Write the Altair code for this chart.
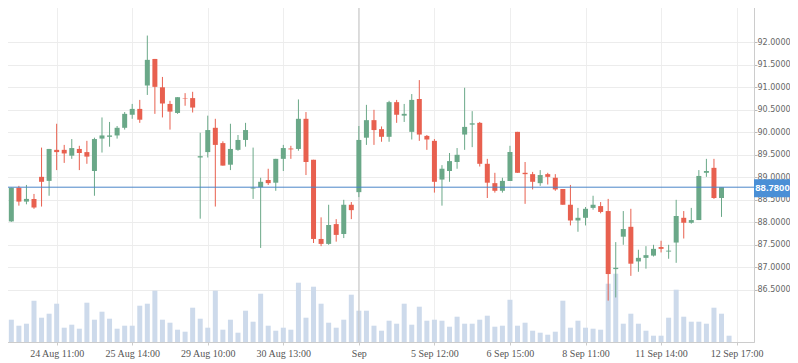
import altair as alt
import pandas as pd

# ---- data ----
opens = [88.19, 88.02, 88.77, 88.46, 88.52, 89.01, 88.92, 89.61, 89.61, 89.48,
         89.63, 89.56, 89.14, 89.86, 89.90, 89.93, 90.10, 90.39, 90.52, 91.04,
         91.63, 91.00, 90.63, 90.43, 90.76, 90.76, 89.44, 89.56, 90.10, 89.76,
         89.28, 89.61, 89.83, 88.75, 88.78, 88.94, 88.88, 89.41, 89.64, 89.63,
         90.30, 89.39, 87.63, 87.52, 87.96, 87.74, 88.39, 88.67, 89.88, 90.27,
         90.07, 89.90, 90.67, 90.37, 90.01, 90.74, 89.92, 89.81, 88.95, 89.14,
         89.34, 89.95, 90.17, 90.21, 89.30, 88.87, 88.70, 88.92, 90.01, 89.10,
         89.07, 88.87, 89.07, 88.99, 88.74, 88.39, 88.04, 88.10, 88.32, 88.36,
         88.25, 86.96, 87.68, 87.90, 87.13, 87.21, 87.26, 87.45, 87.35, 87.55,
         88.10, 87.99, 88.05, 89.10, 89.21, 88.54]
highs = [88.46, 88.77, 88.81, 88.83, 88.63, 89.66, 89.63, 90.19, 89.72, 89.85,
         89.70, 89.81, 89.88, 90.33, 90.23, 90.14, 90.45, 90.63, 90.72, 92.15,
         91.63, 91.23, 90.70, 90.78, 90.87, 90.90, 89.99, 90.37, 90.30, 89.80,
         90.19, 89.94, 90.21, 89.66, 88.99, 89.19, 89.41, 89.72, 89.70, 90.73,
         90.45, 89.39, 88.11, 88.39, 88.07, 88.50, 88.45, 90.14, 90.61, 90.50,
         90.13, 90.70, 90.72, 90.63, 90.85, 91.16, 89.94, 89.85, 89.27, 89.54,
         89.65, 90.99, 90.47, 90.23, 89.41, 89.10, 88.99, 89.70, 90.01, 89.34,
         89.12, 89.16, 89.10, 89.07, 88.74, 88.83, 88.32, 88.34, 88.59, 88.45,
         88.52, 87.56, 88.25, 88.30, 87.39, 87.47, 87.50, 87.59, 87.50, 88.50,
         88.25, 88.32, 89.16, 89.41, 89.41, 88.77]
lows = [87.88, 88.01, 88.37, 88.40, 88.30, 88.35, 88.59, 89.16, 89.32, 89.41,
        89.16, 89.30, 88.59, 89.55, 89.68, 89.86, 90.06, 90.30, 90.21, 90.83,
        90.41, 90.33, 90.06, 90.41, 90.59, 90.44, 88.08, 89.44, 88.35, 89.26,
        89.16, 89.59, 89.68, 88.52, 87.43, 88.83, 88.70, 89.14, 89.41, 89.59,
        89.05, 87.54, 87.47, 87.50, 87.57, 87.65, 88.07, 88.56, 89.72, 89.72,
        89.79, 89.79, 90.21, 90.23, 89.84, 89.81, 89.61, 88.66, 88.37, 88.90,
        89.19, 89.61, 89.67, 89.24, 88.54, 88.66, 88.66, 88.92, 89.10, 88.41,
        88.73, 88.81, 88.84, 88.70, 88.39, 87.93, 87.79, 87.93, 88.28, 88.20,
        86.26, 86.33, 87.50, 86.81, 86.90, 86.97, 87.24, 87.33, 87.19, 87.10,
        87.64, 87.97, 88.05, 89.01, 88.52, 88.12]
closes = [88.04, 88.77, 88.46, 88.52, 88.33, 88.90, 89.63, 89.56, 89.53, 89.65,
          89.54, 89.46, 89.85, 89.93, 89.93, 90.10, 90.41, 90.52, 90.28, 91.61,
          91.01, 90.64, 90.46, 90.78, 90.75, 90.55, 89.47, 90.05, 89.72, 89.26,
          89.63, 89.83, 90.05, 88.77, 88.90, 88.87, 89.41, 89.65, 89.62, 90.30,
          89.34, 87.63, 87.52, 87.94, 87.72, 88.39, 88.27, 89.83, 90.27, 90.05,
          89.90, 90.67, 90.39, 90.41, 90.72, 89.95, 89.84, 88.90, 89.19, 89.36,
          89.50, 90.12, 90.20, 89.30, 88.88, 88.70, 88.92, 89.56, 89.10, 89.07,
          88.90, 89.05, 89.01, 88.73, 88.39, 88.04, 88.10, 88.30, 88.39, 88.23,
          86.85, 86.99, 87.85, 87.08, 87.21, 87.27, 87.41, 87.41, 87.37, 88.14,
          87.99, 88.05, 89.03, 89.14, 88.54, 88.78]
volumes = [2670, 2230, 1630, 1830, 4130, 2430, 2830, 3830, 1430, 1730,
           1330, 3930, 2230, 3030, 2330, 1330, 1630, 1630, 3630, 3830,
           5130, 2230, 1930, 1230, 1030, 3430, 2330, 1430, 5130, 1230,
           2230, 930, 3130, 2030, 4830, 1630, 1130, 1430, 1230, 5930,
           2430, 5530, 3830, 1930, 1430, 2230, 4730, 3130, 3130, 1630,
           1130, 2130, 1830, 3830, 1730, 3530, 2130, 2230, 2130, 1530,
           2530, 1830, 1830, 2230, 2630, 1530, 1630, 4230, 1630, 1930,
           1130, 930, 730, 1030, 4130, 1430, 2130, 1430, 1330, 1230,
           5830, 6830, 1830, 2830, 1830, 1130, 630, 630, 2430, 5230,
           2530, 2030, 2030, 1830, 3430, 2830, 630]
tick_index = [7, 17, 27, 37, 47, 57, 67, 77, 87, 97]
tick_labels = ["24 Aug 11:00", "25 Aug 14:00", "29 Aug 10:00", "30 Aug 13:00", "Sep",
               "5 Sep 12:00", "6 Sep 15:00", "8 Sep 11:00", "11 Sep 14:00", "12 Sep 17:00"]
price_ticks = [86.5, 87.0, 87.5, 88.0, 88.5, 89.0, 89.5, 90.0, 90.5, 91.0, 91.5, 92.0]
month_break = 47

UP = "#6aa888"
DOWN = "#e8604f"

df = pd.DataFrame({"i": list(range(len(opens))), "open": opens, "high": highs,
                   "low": lows, "close": closes})
df["dir"] = ["up" if c >= o else "down" for o, c in zip(opens, closes)]
vdf = pd.DataFrame({"i": list(range(len(volumes))), "volume": volumes})
last = pd.DataFrame({"p": [closes[-1]], "label": [f"{closes[-1]:.4f}"]})
sep_df = pd.DataFrame({"i": [month_break]})

W, H = 754, 342
PX_PER_UNIT = 45.0
top_price = 92.94
x_scale = alt.Scale(domain=[-0.5, 99.3], nice=False, zero=False, padding=0)
y_scale = alt.Scale(domain=[top_price - H / PX_PER_UNIT, top_price], nice=False,
                    zero=False, padding=0)
vol_scale = alt.Scale(domain=[0, 100 * H], nice=False, padding=0)
color_scale = alt.Scale(domain=["up", "down"], range=[UP, DOWN])

arr = "[" + ",".join("'" + t + "'" for t in tick_labels) + "]"
label_expr = f"{arr}[round((datum.value - {tick_index[0]}) / 10)]"

x_axis = alt.Axis(values=tick_index, tickCount=len(tick_index) + 2, labelExpr=label_expr,
                  title=None, grid=True, gridColor="#eeeeee", domainColor="#cccccc",
                  tickColor="#cccccc", tickSize=3, labelFont="Liberation Serif",
                  labelFontSize=10, labelColor="#555555", labelPadding=3,
                  labelOverlap=False, labelFlush=False)
y_axis = alt.Axis(orient="right", values=price_ticks, tickCount=len(price_ticks) + 2,
                  format=".4f", title=None, grid=True, gridColor="#ececec",
                  domainColor="#cccccc", tickColor="#bbbbbb", tickSize=3,
                  labelFont="DejaVu Sans", labelFontSize=8, labelColor="#666666",
                  labelPadding=0, labelOverlap=False, labelFlush=False)

vol = alt.Chart(vdf).mark_bar(size=5, color="#cddaeb").encode(
    x=alt.X("i:Q", scale=x_scale, axis=x_axis),
    y=alt.Y("volume:Q", scale=vol_scale, axis=None),
)

sep = alt.Chart(sep_df).mark_rule(color="#c6c6c6", strokeWidth=1).encode(
    x=alt.X("i:Q", scale=x_scale))

wick = alt.Chart(df).mark_rule(strokeWidth=1).encode(
    x=alt.X("i:Q", scale=x_scale),
    y=alt.Y("low:Q", scale=y_scale, axis=y_axis),
    y2="high:Q",
    color=alt.Color("dir:N", scale=color_scale, legend=None),
)
body = alt.Chart(df).mark_bar(size=5).encode(
    x=alt.X("i:Q", scale=x_scale),
    y=alt.Y("open:Q", scale=y_scale),
    y2="close:Q",
    color=alt.Color("dir:N", scale=color_scale, legend=None),
)
price_line = alt.Chart(last).mark_rule(color="#4a86c8", strokeWidth=1).encode(
    y=alt.Y("p:Q", scale=y_scale))
box = alt.Chart(last).mark_tick(orient="horizontal", color="#4a8fd6", size=37,
                                thickness=18, opacity=1, yOffset=1).encode(
    y=alt.Y("p:Q", scale=y_scale), x=alt.value(772.5))
box_text = alt.Chart(last).mark_text(color="white", font="Liberation Sans",
                                     fontSize=9.5, fontWeight="bold",
                                     align="center", baseline="middle", dy=1).encode(
    y=alt.Y("p:Q", scale=y_scale), x=alt.value(772.5), text="label:N")

price = alt.layer(sep, wick, body, price_line, box, box_text)

chart = alt.layer(vol, price).resolve_scale(y="independent").properties(
    width=W, height=H,
    autosize=alt.AutoSizeParams(type="none"),
    padding={"left": -8, "top": -8, "right": 36, "bottom": 21},
).configure_view(stroke=None).configure_axis(labelOverlap=False).configure(
    background="white")

chart.save("out.html", embed_options={"renderer": "svg", "actions": False})
